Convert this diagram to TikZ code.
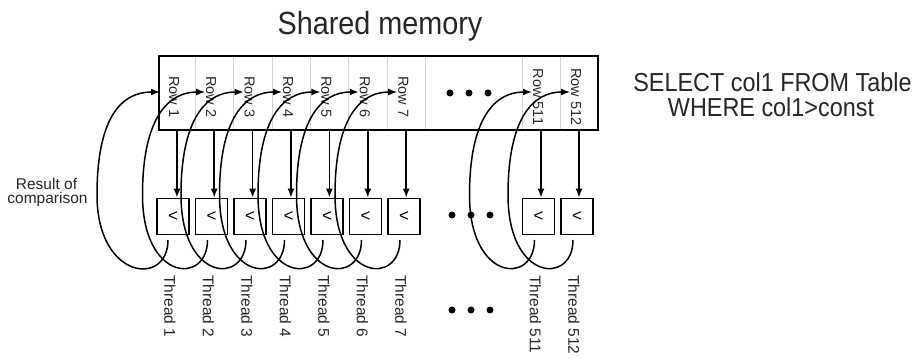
\documentclass[tikz,border=0pt]{standalone}
\usepackage{fontspec}
\setmainfont{Liberation Sans}
\usetikzlibrary{arrows.meta}
\begin{document}
\begin{tikzpicture}[x=1pt,y=-1pt,
  cell/.style={draw=gray!35, line width=0.6pt, minimum height=74pt, inner sep=0pt},
  rowlab/.style={rotate=-90, inner sep=0pt, font=\fontsize{14.5}{14.5}\selectfont, text=black!85},
  cmp/.style={draw, line width=1.6pt, minimum width=32pt, minimum height=36pt, inner sep=0pt, font=\fontsize{17}{17}\selectfont},
  feed/.style={line width=1.7pt, -{Latex[length=9pt,width=7pt]}},
  loopln/.style={line width=1.5pt, -{Latex[length=9pt,width=7pt]}},
  thlab/.style={rotate=-90, anchor=west, inner sep=0pt, font=\fontsize{15.5}{15.5}\selectfont, text=black!85},
  dotn/.style={circle, fill, inner sep=0pt, minimum size=7pt},
  txt/.style={anchor=base, inner sep=0pt, text=black!85}
]
\useasboundingbox (0,0) rectangle (919,358);
% title
\node[txt, font=\fontsize{32}{32}\selectfont] (title) at (380,35) {\scalebox{0.9}[1]{Shared memory}};
% SQL
\node[txt, font=\fontsize{26}{26}\selectfont] (sql1) at (772.5,92) {\scalebox{0.9}[1]{SELECT col1 FROM Table}};
\node[txt, font=\fontsize{26}{26}\selectfont] (sql2) at (771,117) {\scalebox{0.9}[1]{WHERE col1>const}};
% result label
\node[txt, font=\fontsize{15.5}{15.5}\selectfont] (res1) at (46.5,190) {Result of};
\node[txt, font=\fontsize{15.5}{15.5}\selectfont] (res2) at (47.5,204) {comparison};
% memory cells
\node[cell, minimum width=96.6pt] (cdots) at (473.7,93) {};
\foreach \n/\cx/\w/\bx in {1/177/36/173, 2/214.2/38.4/211.5, 3/252.6/38.4/250, 4/291/38.4/288.5, 5/329.4/38.4/327, 6/367.8/38.4/365.5, 7/406.2/38.4/404, 511/541/38/538.5, 512/579/38/577}{
  \node[cell, minimum width=\w pt] (c\n) at (\cx,93) {};
  \node[rowlab] (r\n) at (\cx-3,97) {Row \n};
  \node[cmp] (k\n) at (\bx,216.5) {<};
  \node[thlab] (th\n) at (\bx-3,275) {Thread \n};
  \draw[feed] (c\n.south) -- (c\n.south |- k\n.north);
}
\node[draw, line width=1.8pt, minimum width=439pt, minimum height=74pt, inner sep=0pt] (mem) at (378.5,93) {};
% loops
\coordinate (s1) at (168,240);
\coordinate (l1) at (97,195);
\coordinate (t1) at (160,92);
\draw[loopln] (s1) .. controls +(0,47) and +(0,85) .. (l1) .. controls +(0,-77) and +(-39,0) .. (t1);
\foreach \n/\cx/\bx in {2/214.2/211.5, 3/252.6/250, 4/291/288.5, 5/329.4/327, 6/367.8/365.5, 7/406.2/404, 511/541/538.5, 512/579/577}{
  \coordinate (s\n) at (\bx-4,240);
  \coordinate (l\n) at (\bx-69,195);
  \coordinate (t\n) at (\cx-9,92);
  \draw[loopln] (s\n) .. controls +(0,45) and +(0,87) .. (l\n) .. controls +(0,-77) and +(-37,0) .. (t\n);
}
% ellipsis dots
\foreach \x/\y [count=\k] in {450/93, 469/93, 488/93, 452/215, 471/215, 490/215, 452/310, 471/310, 490/310}{
  \node[dotn] (d\k) at (\x,\y) {};
}
\end{tikzpicture}
\end{document}
